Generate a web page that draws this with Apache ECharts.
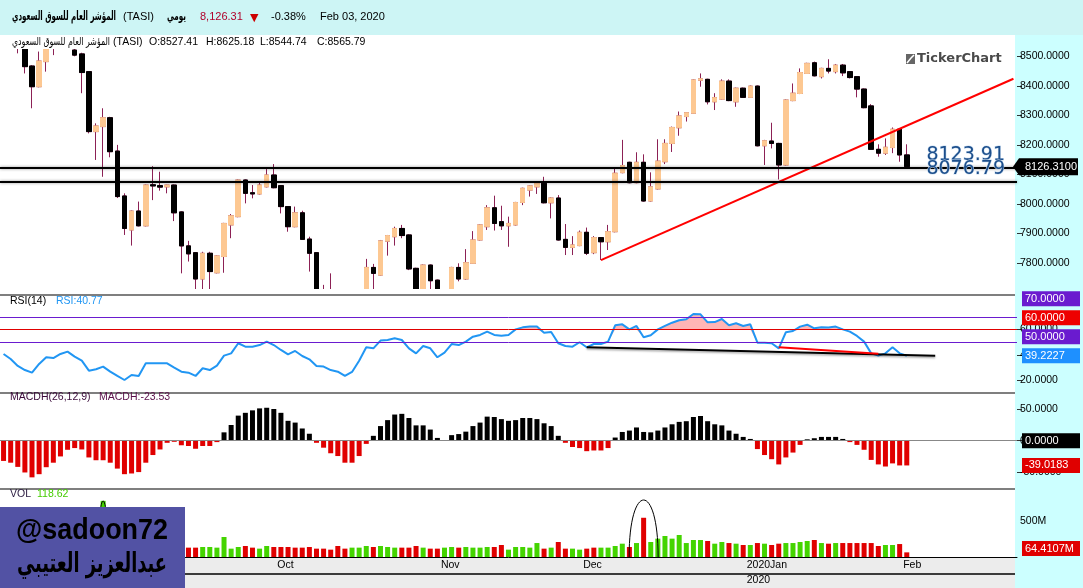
<!DOCTYPE html>
<html>
<head>
<meta charset="utf-8">
<script src="https://cdn.jsdelivr.net/npm/echarts@6/dist/echarts.min.js"></script>
<style>
  html, body { margin: 0; padding: 0; background: #fff; }
  #wrap { position: relative; width: 1083px; height: 588px; overflow: hidden; }
  .bg { position: absolute; }
  #chart { position: absolute; left: 0; top: 0; width: 1083px; height: 588px; }
</style>
</head>
<body>
<div id="wrap">
  <div class="bg" style="left:1015px;top:35px;width:68px;height:553px;background:#ccffff"></div>
  <div class="bg" style="left:0;top:557px;width:1015px;height:31px;background:#ececec"></div>
  <div id="chart"></div>
</div>
<script>
// daily bars, one slot per trading day, empty slots on the right
const slotCount = 143;
const monthLabels = ["Oct", "Nov", "Dec", "2020Jan", "Feb"];
const monthFirstBar = [39, 62, 82, 105, 127];
const yearLabel = "2020";
const yearFirstBar = 105;

const opens = [8560,8545,8575,8545,8467,8397,8482,8535,8560,8590,8521,8508,8448,8245,8262,8292,8179,8027,7912,7976,
  7926,8065,8062,8058,8064,7973,7858,7835,7746,7833,7767,7822,7929,7957,8081,8038,8034,8058,8098,8062,
  7991,7923,7970,7881,7835,7700,7696,7700,7698,7696,7698,7705,7785,7759,7874,7889,7917,7895,7782,7705,
  7793,7742,7700,7700,7785,7746,7799,7878,7923,7987,7940,7926,7929,8005,8047,8058,8070,8004,8020,7880,
  7853,7859,7904,7835,7886,7872,7906,8106,8141,8072,8141,8010,8051,8143,8205,8258,8296,8307,8419,8422,
  8346,8355,8416,8346,8392,8361,8399,8197,8213,8205,8132,8350,8374,8442,8478,8431,8459,8448,8470,8448,
  8431,8389,8332,8185,8172,8191,8253,8166];
const closes = [8545,8575,8560,8465,8397,8484,8530,8560,8590,8570,8504,8445,8245,8264,8292,8177,8025,7917,7976,7926,
  8064,8061,8057,8064,7970,7858,7831,7746,7833,7771,7824,7934,7960,8081,8036,8034,8064,8098,8055,7991,
  7923,7970,7880,7833,7700,7696,7700,7698,7696,7698,7700,7785,7765,7875,7893,7917,7893,7780,7705,7793,
  7740,7705,7698,7785,7746,7801,7878,7929,7987,7934,7926,7934,8005,8053,8061,8070,8004,8020,7878,7853,
  7861,7904,7833,7886,7872,7906,8104,8130,8072,8141,8010,8058,8145,8205,8259,8298,8309,8420,8424,8346,
  8360,8416,8350,8392,8361,8399,8197,8214,8205,8132,8352,8375,8445,8476,8434,8459,8450,8470,8444,8428,
  8389,8326,8185,8172,8192,8253,8166,8126.31];
const lows = [8530,8535,8510,8442,8324,8395,8448,8504,8540,8545,8500,8375,8239,8149,8092,8158,8020,7895,7859,7924,
  7924,8013,8045,8036,7942,7765,7805,7712,7712,7710,7765,7767,7884,7955,8002,8019,8032,8056,8053,7968,
  7906,7921,7878,7771,7694,7694,7694,7694,7694,7694,7694,7700,7712,7757,7825,7859,7884,7776,7694,7695,
  7712,7694,7694,7694,7738,7743,7797,7876,7912,7910,7912,7855,7927,7996,8025,8034,8002,7951,7876,7827,
  7827,7857,7827,7830,7810,7844,7904,8104,8070,8070,8008,8008,8049,8135,8176,8231,8279,8305,8397,8337,
  8318,8353,8348,8329,8359,8359,8195,8132,8188,8083,8130,8348,8372,8440,8432,8425,8442,8442,8433,8425,
  8361,8324,8183,8160,8166,8172,8143,8126];
const highs = [8600,8590,8600,8555,8470,8516,8545,8580,8610,8625,8535,8512,8450,8273,8324,8295,8200,8036,7978,8008,
  8066,8128,8109,8065,8066,7975,7875,7837,7838,7838,7826,7936,7966,8083,8083,8064,8075,8118,8135,8064,
  7993,7991,7977,7889,7837,7726,7765,7708,7700,7705,7709,7814,7797,7878,7895,7923,7929,7897,7784,7795,
  7795,7744,7710,7787,7799,7847,7908,7931,7996,8028,7994,7957,8007,8055,8063,8072,8092,8022,8030,7932,
  7891,7910,7920,7891,7888,7929,8123,8217,8143,8175,8168,8107,8219,8219,8262,8313,8311,8422,8442,8424,
  8375,8422,8422,8394,8394,8401,8401,8217,8275,8207,8354,8408,8459,8478,8482,8461,8490,8474,8474,8450,
  8433,8391,8338,8202,8222,8259,8255,8202];

const supportLevels = [8123.91, 8076.79];
const priceTrend = [[84, 7810], [142, 8424]];

const rsi = [40.6,36.6,31.1,27.9,25.8,32.7,38.0,37.4,40.6,42.5,38.5,35.3,27.4,28.5,30.6,26.6,23.2,20.0,24.0,23.2,
  33.2,33.2,33.2,33.2,29.8,26.6,25.8,23.2,29.3,27.9,31.4,39.3,41.1,49.1,46.4,46.4,47.7,50.4,47.7,43.8,
  40.3,43.0,39.0,36.4,31.1,30.6,27.9,26.6,23.2,26.4,35.3,45.9,45.1,51.2,51.7,53.0,51.7,45.1,41.1,46.9,
  45.1,38.0,41.7,48.5,47.7,50.4,54.3,55.7,58.3,55.7,55.1,55.7,60.1,61.7,62.3,62.3,57.5,58.0,49.1,46.9,
  46.4,49.9,45.9,48.5,48.5,50.4,63.3,64.1,60.1,62.8,53.8,55.4,60.1,62.8,65.4,67.3,68.1,72.3,72.0,65.7,
  65.9,68.3,63.3,64.9,62.8,64.1,49.6,49.6,49.1,45.1,57.8,58.8,62.3,63.8,60.9,61.7,61.5,62.3,60.1,58.3,
  54.9,50.4,41.1,39.3,41.1,45.9,41.1,39.2227];
const rsiLevels = [70, 60, 50];
const rsiTrendBlack = [[82, 45.9], [131, 39.25]];
const rsiTrendRed = [[109, 45.9], [123, 40.7]];

const macdh = [-31.9,-34.7,-41.3,-50.1,-57.8,-52.8,-41.8,-34.7,-24.8,-14.3,-11.6,-13.8,-26.4,-30.8,-30.8,-34.7,-44.0,-52.8,-51.7,-49.5,
  -34.7,-22.6,-13.8,-3.3,-1.7,-7.2,-8.3,-12.7,-8.3,-8.3,-2.2,13.2,24.8,39.6,44.0,47.9,51.0,52.0,50.0,44.0,
  31.4,28.6,19.3,11.0,-3.3,-11.0,-19.8,-24.2,-34.7,-34.7,-24.2,-5.0,7.7,23.1,32.5,41.3,42.4,35.8,24.2,24.2,
  17.6,4.4,1.1,8.8,10.5,14.3,23.1,28.6,38.0,37.4,34.1,31.4,32.5,35.8,35.8,34.1,27.5,23.1,7.7,-3.3,
  -9.9,-11.6,-16.5,-15.4,-15.4,-11.6,5.0,13.8,16.0,20.9,13.8,13.2,16.0,20.9,25.9,29.7,30.8,37.4,39.0,30.8,
  25.9,24.2,16.0,11.0,6.0,2.8,-13.2,-22.6,-29.2,-37.4,-26.4,-18.7,-6.6,2.2,3.9,6.0,6.0,6.0,2.8,-2.2,
  -6.6,-14.3,-30.3,-37.4,-40.7,-35.8,-39.0,-39.0183];

// volume in millions, r = down day, g = up day
const volumes = [120,135,125,140,150,130,125,145,160,130,140,150,170,155,780,180,165,150,140,135,
  150,130,125,120,145,160,130,130,139,139,130,278,116,139,153,130,116,153,139,139,
  139,130,130,139,116,116,102,153,116,130,130,153,139,153,139,130,130,130,153,130,
  116,116,130,139,130,139,130,130,139,139,167,102,139,139,130,194,116,130,208,116,
  116,102,116,130,130,130,153,185,139,194,545,208,255,292,255,306,194,236,236,222,
  185,208,194,185,167,167,194,185,167,185,194,194,208,222,236,194,185,194,194,194,
  194,194,194,153,167,167,180,64.4107];
const volumeDir = ("rggrrgrgrrggrrgrgrrggrrgrg" +
  "rrggggggrrggrrrrrrrrrrrgggrgggrrrgrrggrggggrrggggg" +
  "rgrrggrrggggrgrggggggggrggrgrgrgrrggggrgrgrrrrrrggrr").split("");

const header = {
  name: "المؤشر العام للسوق السعودي", code: "(TASI)", period: "يومي",
  last: "8,126.31", change: "-0.38%", date: "Feb 03, 2020",
};
const barInfo = ["O:8527.41", "H:8625.18", "L:8544.74", "C:8565.79"];
const rsiInfo = ["RSI(14)", "RSI:40.77"];
const macdInfo = ["MACDH(26,12,9)", "MACDH:-23.53"];
const volInfo = ["VOL", "118.62"];
const watermark = ["@sadoon72", "عبدالعزيز العتيبي"];

const sans = "'Liberation Sans', Arial, sans-serif";
const dejavu = "'DejaVu Sans', sans-serif";
const upFill = "#fdc892";
const wick = "#8c2155";
const greenVol = "#44d400";
const redBar = "#e00000";
const purple = "#6a1bcf";

const slots = Array.from({ length: slotCount }, (_, i) => String(i));
const candleData = opens.map((o, i) => [o, closes[i], lows[i], highs[i]]);
const bodyData = opens.map((o, i) => [o, closes[i], Math.min(o, closes[i]), Math.max(o, closes[i])]);

function catAxis(gridIndex, showLine) {
  return {
    type: "category", gridIndex, data: slots, boundaryGap: true,
    axisLine: { show: showLine, lineStyle: { color: "#000", width: 1 } },
    axisTick: { show: false }, axisLabel: { show: false }, splitLine: { show: false },
  };
}

function valAxis(gridIndex, min, max, ticks, fmt) {
  return {
    type: "value", gridIndex, position: "right", min, max, z: 10,
    axisLine: { show: false }, splitLine: { show: false },
    axisTick: { show: true, length: 5, customValues: ticks, lineStyle: { color: "#333" } },
    axisLabel: { customValues: ticks, formatter: fmt, margin: 3, color: "#000", fontFamily: sans, fontSize: 10.5 },
  };
}

const grids = [
  { left: 0, right: 66, top: 49, height: 240 },
  { left: 0, right: 66, top: 296, height: 96 },
  { left: 0, right: 66, top: 394, height: 94 },
  { left: 0, right: 66, top: 490, height: 67 },
];

const dateAxis = (customValues, fmt, offset) => ({
  type: "value", gridIndex: 3, position: "bottom", min: -0.5, max: slotCount - 0.5, offset,
  axisLine: { show: false }, axisTick: { show: false }, splitLine: { show: false },
  axisLabel: { customValues, formatter: fmt, align: "left", margin: 3, color: "#000", fontFamily: sans, fontSize: 10.5 },
});

const option = {
  animation: false,
  grid: grids,
  xAxis: [
    catAxis(0, false), catAxis(1, false), catAxis(2, false), catAxis(3, true),
    dateAxis(monthFirstBar.map((i) => i - 0.5), (v) => monthLabels[monthFirstBar.indexOf(v + 0.5)], 0),
    dateAxis([yearFirstBar - 0.5], () => yearLabel, 15),
  ],
  yAxis: [
    valAxis(0, 7712, 8524.7, [7800, 7900, 8000, 8100, 8200, 8300, 8400, 8500], (v) => v.toFixed(4)),
    valAxis(1, 10.5, 86.53, [20, 40, 60], (v) => v.toFixed(4)),
    valAxis(2, -74.6, 73.7, [-50, 0, 50], (v) => v.toFixed(4)),
    valAxis(3, 0, 930.6, [500], (v) => v + "M"),
  ],
  series: [
    {
      type: "candlestick", xAxisIndex: 0, yAxisIndex: 0, barWidth: 5, silent: true,
      data: candleData,
      itemStyle: { color: wick, color0: wick, borderColor: wick, borderColor0: wick, borderWidth: 1 },
    },
    {
      type: "candlestick", xAxisIndex: 0, yAxisIndex: 0, barWidth: 5, silent: true,
      data: bodyData,
      itemStyle: { color: upFill, color0: "#000", borderColor: upFill, borderColor0: "#000", borderWidth: 1 },
      markLine: {
        symbol: "none", silent: true, animation: false,
        lineStyle: { color: "#000", width: 2, type: "solid", shadowColor: "rgba(0,0,0,0.45)", shadowBlur: 3 },
        label: {
          position: "insideEndTop", distance: [12, 3], formatter: (p) => p.value.toFixed(2),
          color: "#1d4f8c", fontFamily: dejavu, fontSize: 19,
          textBorderColor: "#c8dcf0", textBorderWidth: 1,
        },
        data: supportLevels.map((v) => ({ yAxis: v })),
      },
    },
    {
      type: "line", xAxisIndex: 0, yAxisIndex: 0, data: priceTrend, symbol: "none", silent: true,
      lineStyle: { color: "#ff0000", width: 2 },
    },
    {
      type: "line", xAxisIndex: 1, yAxisIndex: 1, stack: "rsiFill", symbol: "none", silent: true,
      data: rsi.map((v) => Math.min(v, 60)), lineStyle: { opacity: 0 },
    },
    {
      type: "line", xAxisIndex: 1, yAxisIndex: 1, stack: "rsiFill", symbol: "none", silent: true,
      data: rsi.map((v) => Math.max(v - 60, 0)), lineStyle: { opacity: 0 },
      areaStyle: { color: "#ffb5b5", opacity: 1 },
    },
    {
      type: "line", xAxisIndex: 1, yAxisIndex: 1, data: rsi, symbol: "none", silent: true,
      lineStyle: { color: "#2196f3", width: 2 },
      markLine: {
        symbol: "none", silent: true, animation: false, label: { show: false },
        data: rsiLevels.map((v) => ({ yAxis: v, lineStyle: { color: v === 60 ? "#e00000" : purple, width: 1, type: "solid" } })),
      },
    },
    {
      type: "line", xAxisIndex: 1, yAxisIndex: 1, data: rsiTrendBlack, symbol: "none", silent: true,
      lineStyle: { color: "#000", width: 2, shadowColor: "rgba(0,0,0,0.35)", shadowBlur: 2, shadowOffsetY: 1.5 },
    },
    {
      type: "line", xAxisIndex: 1, yAxisIndex: 1, data: rsiTrendRed, symbol: "none", silent: true,
      lineStyle: { color: "#ff0000", width: 2 },
    },
    {
      type: "bar", xAxisIndex: 2, yAxisIndex: 2, barWidth: 5, silent: true,
      data: macdh.map((v) => ({ value: v, itemStyle: { color: v >= 0 ? "#000" : redBar } })),
      markLine: {
        symbol: "none", silent: true, animation: false, label: { show: false },
        lineStyle: { color: "#888", width: 1, type: "solid" }, data: [{ yAxis: 0 }],
      },
    },
    {
      type: "bar", xAxisIndex: 3, yAxisIndex: 3, barWidth: 5, silent: true,
      data: volumes.map((v, i) => ({ value: v, itemStyle: { color: volumeDir[i] === "g" ? greenVol : redBar } })),
    },
  ],
};

const chart = echarts.init(document.getElementById("chart"));
chart.setOption(option);

const measureCtx = document.createElement("canvas").getContext("2d");

function text(str, x, y, font, fill, align, z) {
  return {
    type: "text", z: z || 60,
    style: { text: str, x, y, font, fill, align: align || "left", verticalAlign: "middle",
      textAlign: align || "left", textVerticalAlign: "middle" },
  };
}

// keep the glyph height, squeeze the run to the width it has in the picture
function squeezed(str, x, y, font, width, fill, z) {
  measureCtx.font = font;
  const w = measureCtx.measureText(str).width;
  const el = text(str, 0, 0, font, fill, "left", z);
  el.x = x;
  el.y = y;
  el.scaleX = Math.min(1, width / w);
  return el;
}

function hline(y, x1, color, width) {
  return { type: "line", z: 58, shape: { x1: 0, y1: y, x2: x1, y2: y }, style: { stroke: color, lineWidth: width } };
}

function tag(y, str, fill, arrow) {
  const shape = arrow
    ? { type: "polygon", z: 70, shape: { points: [[1013, y], [1019, y - 8.5], [1078, y - 8.5], [1078, y + 8.5], [1019, y + 8.5]] }, style: { fill } }
    : { type: "rect", z: 70, shape: { x: 1022, y: y - 7.5, width: 58, height: 15 }, style: { fill } };
  return [shape, text(str, 1025, y, "11px " + sans, "#fff", "left", 71)];
}

const yPix = (axis, v) => chart.convertToPixel({ yAxisIndex: axis }, v);
const xPix = (i) => chart.convertToPixel({ xAxisIndex: 0 }, i);

// right-side value tags, stacked upwards where they would overlap
const rsiTags = [
  { v: 70, fill: purple }, { v: 60, fill: "#ee0000" }, { v: 50, fill: purple },
  { v: rsi[rsi.length - 1], fill: "#1e90ff" },
].map((t) => ({ ...t, y: yPix(1, t.v) })).sort((a, b) => b.y - a.y);
for (let k = 1; k < rsiTags.length; k++) {
  rsiTags[k].y = Math.min(rsiTags[k].y, rsiTags[k - 1].y - 19);
}

const lastVol = volumes[volumes.length - 1];
const volTagY = Math.min(yPix(3, lastVol), 557 - 8.5);

const tags = [
  ...tag(yPix(0, closes[closes.length - 1]), closes[closes.length - 1].toFixed(4), "#000", true),
  ...rsiTags.flatMap((t) => tag(t.y, t.v.toFixed(4), t.fill, false)),
  ...tag(yPix(2, 0), (0).toFixed(4), "#000", false),
  ...tag(yPix(2, macdh[macdh.length - 1]), macdh[macdh.length - 1].toFixed(4), "#e00000", false),
  ...tag(volTagY, lastVol.toFixed(4) + "M", "#e00000", false),
];

// marked volume spikes
function arch(i, half, peak) {
  const x = xPix(i);
  const base = 557;
  const cy = (peak - 0.25 * base) / 0.75;
  return { type: "bezierCurve", z: 45, shape: { x1: x - half, y1: base, x2: x + half, y2: base, cpx1: x - half, cpy1: cy, cpx2: x + half, cpy2: cy },
    style: { stroke: "#000", lineWidth: 1, fill: null } };
}

const f11 = "11px " + sans;
const f105 = "10.5px " + sans;

const graphics = [
  // masks: candles are not cut by the grid, so hide what spills out of the price pane
  { type: "rect", z: 55, shape: { x: 0, y: 0, width: 1083, height: 35 }, style: { fill: "#cdf5f5" } },
  { type: "rect", z: 55, shape: { x: 0, y: 35, width: 1015, height: 14 }, style: { fill: "#fff" } },
  { type: "rect", z: 55, shape: { x: 0, y: 289, width: 1015, height: 6.5 }, style: { fill: "#fff" } },
  // pane separators
  hline(295, 1015, "#555", 1.5), hline(393, 1015, "#555", 1.5), hline(489, 1015, "#555", 1.5),
  hline(574, 1015, "#000", 1.5),
  arch(90, 14.5, 500), arch(14, 5, 501),
  // header
  squeezed(header.name, 12, 17, "bold 12.5px " + dejavu, 104, "#000"),
  text(header.code, 123, 17, f11, "#000"),
  squeezed(header.period, 167, 17, "bold 12.5px " + dejavu, 19, "#000"),
  text(header.last, 200, 17, f11, "#b0002a"),
  text("▼", 250, 18, "11px " + dejavu, "#cc0000"),
  text(header.change, 271, 17, f11, "#000"),
  text(header.date, 320, 17, f11, "#000"),
  // price legend
  squeezed(header.name, 12, 42, "11px " + dejavu, 98, "#000"),
  text(header.code, 113, 42, f105, "#000"),
  text(barInfo[0], 149, 42, f105, "#000"),
  text(barInfo[1], 206, 42, f105, "#000"),
  text(barInfo[2], 260, 42, f105, "#000"),
  text(barInfo[3], 317, 42, f105, "#000"),
  // logo
  { type: "rect", z: 60, shape: { x: 906, y: 54, width: 9, height: 10 }, style: { fill: "#666" } },
  { type: "polyline", z: 61, shape: { points: [[907, 63], [911, 58], [914, 55]] }, style: { stroke: "#fff", lineWidth: 1.5, fill: null } },
  text("TickerChart", 917, 59, "bold 13px " + dejavu, "#4a4a4a"),
  // indicator legends
  text(rsiInfo[0], 10, 301, f105, "#000"),
  text(rsiInfo[1], 56, 301, f105, "#2196f3"),
  text(macdInfo[0], 10, 397, f105, "#3a0a3a"),
  text(macdInfo[1], 99, 397, f105, "#5a0f4a"),
  text(volInfo[0], 10, 494, f105, "#2a1a40"),
  text(volInfo[1], 37, 494, f105, "#44cc00"),
  // watermark
  { type: "rect", z: 80, shape: { x: 0, y: 507, width: 185, height: 81 }, style: { fill: "#5252a4" } },
  squeezed(watermark[0], 16, 531, "bold 30px " + sans, 152, "#000", 81),
  squeezed(watermark[1], 17, 565, "bold 27px " + dejavu, 150, "#000", 81),
  ...tags,
];

chart.setOption({ graphic: graphics });
</script>
</body>
</html>
